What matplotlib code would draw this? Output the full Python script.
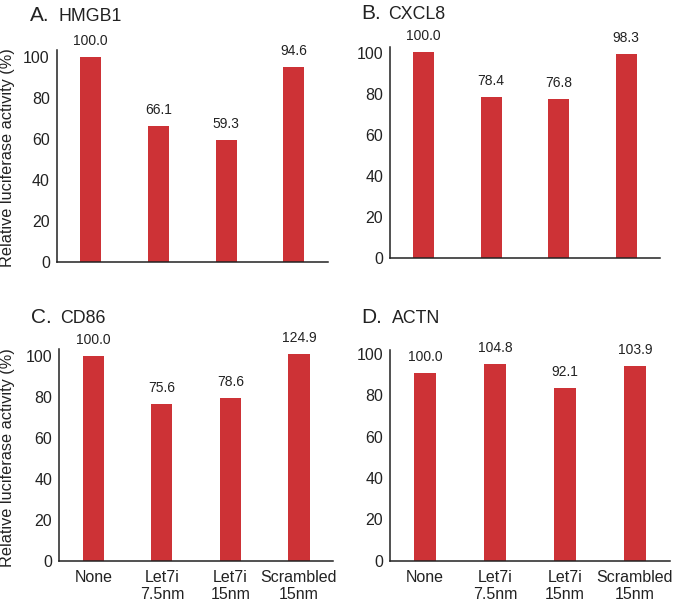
import matplotlib.pyplot as plt

plt.rcParams['font.family'] = ['Liberation Sans', 'DejaVu Sans']

categories = ['None', 'Let7i\n7.5nm', 'Let7i\n15nm', 'Scrambled\n15nm']

# bar heights as drawn, and the numbers printed above them
hmgb1_heights = [100.0, 66.3, 59.4, 95.0]
hmgb1_labels = ['100.0', '66.1', '59.3', '94.6']
cxcl8_heights = [100.5, 78.5, 77.3, 99.2]
cxcl8_labels = ['100.0', '78.4', '76.8', '98.3']
cd86_heights = [100.0, 76.3, 79.4, 100.6]
cd86_labels = ['100.0', '75.6', '78.6', '124.9']
actn_heights = [90.8, 95.2, 83.6, 94.3]
actn_labels = ['100.0', '104.8', '92.1', '103.9']

yticks = [0, 20, 40, 60, 80, 100]
BAR_COLOR = '#cd3236'
INK = '#222222'

W, H = 678, 603
fig = plt.figure(figsize=(W / 100, H / 100), dpi=100)


def px_rect(left, right, base, top):
    return [left / W, (H - base) / H, (right - left) / W, (base - top) / H]


def draw_panel(rect, heights, labels, ytop, show_x):
    ax = fig.add_axes(rect)
    x = list(range(len(categories)))
    ax.bar(x, heights, width=0.31, color=BAR_COLOR)
    for xi, h, lab in zip(x, heights, labels):
        ax.annotate(lab, (xi, h), xytext=(0, 11.5), textcoords='offset points',
                    ha='center', va='center', fontsize=10, color=INK)
    ax.set_xlim(-0.5, 3.5)
    ax.set_ylim(0, ytop)
    ax.set_yticks(yticks)
    ax.set_xticks(x)
    if show_x:
        ax.set_xticklabels(categories, fontsize=11.5, color=INK, linespacing=1.1)
    else:
        ax.set_xticklabels([])
    ax.tick_params(axis='y', length=0, pad=5, labelsize=11.5, labelcolor=INK)
    ax.tick_params(axis='x', length=0, pad=7)
    for s in ['top', 'right']:
        ax.spines[s].set_visible(False)
    for s in ['left', 'bottom']:
        ax.spines[s].set_linewidth(1.1)
        ax.spines[s].set_color(INK)
    return ax


draw_panel(px_rect(56.7, 327.7, 261.7, 50), hmgb1_heights, hmgb1_labels, 103.4, False)
draw_panel(px_rect(390, 660, 257.7, 46.7), cxcl8_heights, cxcl8_labels, 102.9, False)
draw_panel(px_rect(59, 333.3, 560.7, 349.3), cd86_heights, cd86_labels, 103.1, True)
draw_panel(px_rect(390, 670, 560.7, 350), actn_heights, actn_labels, 101.9, True)

# panel titles
titles = [('A.', 'HMGB1', 30, 58.5, 20.7),
          ('B.', 'CXCL8', 361, 388.5, 19),
          ('C.', 'CD86', 31, 60, 322.7),
          ('D.', 'ACTN', 361, 392, 322.7)]
for letter, name, xl, xn, yb in titles:
    fig.text(xl / W, (H - yb) / H, letter, fontsize=15, color=INK, va='baseline')
    fig.text(xn / W, (H - yb) / H, name, fontsize=12.8, color=INK, va='baseline')

for yc in [158, 458]:
    fig.text(8 / W, (H - yc) / H, 'Relative luciferase activity (%)', rotation=90,
             ha='center', va='center', fontsize=11.7, color=INK)

fig.savefig('out.png', dpi=100)
